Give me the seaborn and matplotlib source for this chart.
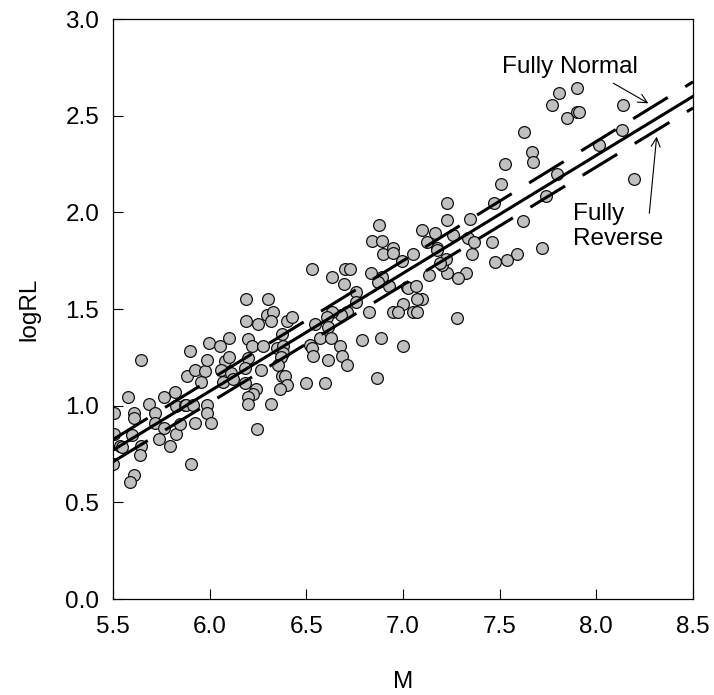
import matplotlib
matplotlib.use('Agg')
import matplotlib.pyplot as plt
import seaborn as sns

# Magnitude (M) of each event
M = [5.505, 5.505, 5.50, 5.535, 5.545, 5.578, 5.646, 5.607, 5.61, 5.598,
     5.646, 5.638, 5.61, 5.586, 5.688, 5.719, 5.715, 5.764, 5.819, 5.828,
     5.764, 5.736, 5.795, 5.828, 5.845, 5.871, 5.88, 5.914, 5.905, 5.926,
     5.988, 5.988, 6.005, 5.897, 5.884, 5.926, 5.974, 5.957, 5.988, 5.997,
     6.055, 6.098, 6.078, 6.098, 6.06, 6.069, 6.112,
     6.528, 6.635, 6.70, 6.726, 6.697, 6.838, 6.89, 6.898, 6.835, 6.89,
     6.87, 6.756, 6.756, 6.709, 6.68, 6.631, 6.605, 6.614, 6.571, 6.628,
     6.545, 6.519, 6.53, 6.536, 6.61, 6.674, 6.686, 6.709, 6.787, 6.826,
     6.885, 6.867, 6.497, 6.597, 6.188, 6.304, 6.188, 6.249, 6.295, 6.329,
     6.317, 6.398, 6.424, 6.2, 6.22, 6.278, 6.376, 6.35, 6.38, 6.38,
     6.37, 6.2, 6.183, 6.266, 6.355, 6.376, 6.39, 6.398, 6.364, 6.183,
     6.238, 6.226, 6.2, 6.2, 6.317, 6.12, 6.247,
     6.876, 6.95, 6.95, 6.997, 7.019, 7.0, 6.947, 6.976, 7.0,
     7.718, 7.588, 7.536, 7.476, 7.459, 7.356, 7.326, 7.286, 7.226, 7.2,
     7.22, 7.136, 7.178, 7.054, 7.028, 7.068, 7.097, 7.07, 7.054, 7.07,
     7.277, 6.93,
     7.899, 7.809, 7.77, 7.847, 7.902, 7.91, 8.14, 8.131, 8.016, 8.195,
     7.628, 7.666, 7.674, 7.528, 7.507, 7.795, 7.738, 7.619, 7.471, 7.23,
     7.23, 7.347, 7.097, 7.166, 7.123, 7.175, 7.26, 7.338, 7.367, 7.19]

# log of rupture length
logRL = [0.96, 0.855, 0.70, 0.79, 0.785, 1.047, 1.236, 0.962, 0.935, 0.848,
         0.79, 0.745, 0.641, 0.607, 1.007, 0.96, 0.913, 1.047, 1.069, 0.998,
         0.883, 0.826, 0.79, 0.852, 0.907, 1.004, 1.004, 1.004, 0.697, 0.909,
         1.004, 0.96, 0.909, 1.285, 1.154, 1.185, 1.181, 1.121, 1.236, 1.326,
         1.309, 1.349, 1.231, 1.25, 1.185, 1.124, 1.167,
         1.706, 1.667, 1.706, 1.706, 1.63, 1.854, 1.854, 1.785, 1.688, 1.667,
         1.64, 1.588, 1.538, 1.486, 1.47, 1.486, 1.457, 1.409, 1.349, 1.349,
         1.423, 1.314, 1.30, 1.257, 1.236, 1.309, 1.257, 1.21, 1.34, 1.486,
         1.352, 1.145, 1.119, 1.119, 1.552, 1.552, 1.44, 1.421, 1.469, 1.486,
         1.44, 1.44, 1.457, 1.343, 1.31, 1.309, 1.371, 1.30, 1.31, 1.27,
         1.25, 1.245, 1.193, 1.185, 1.21, 1.154, 1.154, 1.107, 1.085, 1.119,
         1.085, 1.06, 1.047, 1.009, 1.009, 1.14, 0.881,
         1.935, 1.814, 1.79, 1.749, 1.612, 1.526, 1.483, 1.483, 1.309,
         1.814, 1.785, 1.754, 1.745, 1.848, 1.785, 1.688, 1.659, 1.688, 1.73,
         1.76, 1.676, 1.814, 1.785, 1.607, 1.619, 1.55, 1.55, 1.486, 1.486,
         1.455, 1.62,
         2.642, 2.616, 2.556, 2.486, 2.521, 2.52, 2.556, 2.426, 2.349, 2.171,
         2.418, 2.314, 2.262, 2.25, 2.147, 2.199, 2.087, 1.956, 2.047, 2.05,
         1.961, 1.964, 1.909, 1.892, 1.849, 1.806, 1.883, 1.866, 1.849, 1.737]

# Regression lines (end points)
line_M = [5.5, 8.5]
line_all = [0.77, 2.60]
line_normal = [0.825, 2.675]
line_reverse = [0.71, 2.54]

xticks = [5.5, 6.0, 6.5, 7.0, 7.5, 8.0, 8.5]
yticks = [0.0, 0.5, 1.0, 1.5, 2.0, 2.5, 3.0]

sns.set_style('ticks')
plt.rcParams['font.family'] = ['Liberation Sans', 'DejaVu Sans']
plt.rcParams['text.color'] = 'black'
plt.rcParams['axes.labelcolor'] = 'black'
plt.rcParams['xtick.color'] = 'black'
plt.rcParams['ytick.color'] = 'black'
FS = 17.5

fig = plt.figure(figsize=(7.14, 6.95), dpi=100)
ax = fig.add_axes([0.1583, 0.1381, 0.8123, 0.8345])

sns.scatterplot(x=M, y=logRL, ax=ax, s=72, color='#c0c0c0',
                edgecolor='#111111', linewidth=0.9, zorder=2, legend=False)

dash = (0, (13.3, 6.7))
sns.lineplot(x=line_M, y=line_all, ax=ax, color='black', lw=2.2, zorder=3)
sns.lineplot(x=line_M, y=line_normal, ax=ax, color='black', lw=2.2,
             linestyle=dash, zorder=3)
sns.lineplot(x=line_M, y=line_reverse, ax=ax, color='black', lw=2.2,
             linestyle=dash, zorder=3)

ax.set_xlim(5.5, 8.5)
ax.set_ylim(0.0, 3.0)
ax.set_xticks(xticks)
ax.set_yticks(yticks)
ax.set_xticklabels([f'{v:.1f}' for v in xticks], fontsize=FS)
ax.set_yticklabels([f'{v:.1f}' for v in yticks], fontsize=FS)
ax.tick_params(axis='both', direction='in', length=7, width=0.8,
               color='black', labelcolor='black')
ax.tick_params(axis='x', pad=12)
ax.tick_params(axis='y', pad=10)
for sp in ax.spines.values():
    sp.set_visible(True)
    sp.set_linewidth(0.9)
    sp.set_color('black')

ax.set_xlabel('M', fontsize=FS, labelpad=24)
ax.set_ylabel('logRL', fontsize=FS, labelpad=18)

ax.text(7.51, 2.72, 'Fully Normal', fontsize=FS, ha='left', va='baseline')
ax.text(7.88, 2.05, 'Fully\nReverse', fontsize=FS, ha='left', va='top',
        linespacing=1.2)

arrow = dict(arrowstyle='->', color='black', lw=0.8, shrinkA=0, shrinkB=0,
             mutation_scale=16)
ax.annotate('', xy=(8.269, 2.564), xytext=(8.088, 2.668), arrowprops=arrow)
ax.annotate('', xy=(8.312, 2.392), xytext=(8.274, 1.995), arrowprops=arrow)

fig.savefig('out.png', dpi=100)
